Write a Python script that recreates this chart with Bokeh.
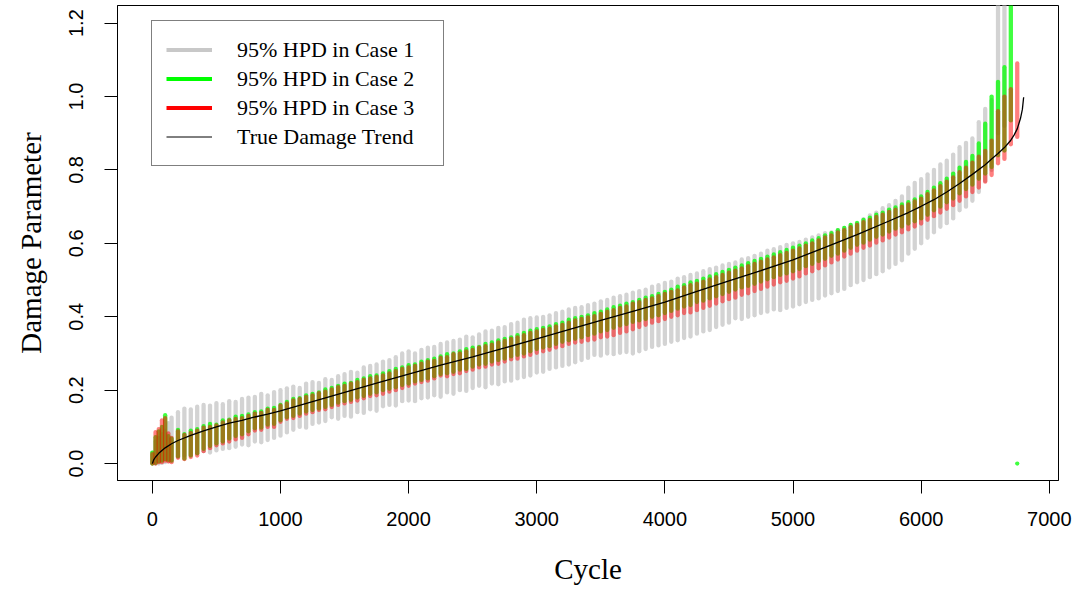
import numpy as np
from bokeh.plotting import figure
from bokeh.models import Range1d, FixedTicker, PrintfTickFormatter, Legend, LegendItem, ColumnDataSource
from bokeh.embed import file_html
from bokeh.resources import INLINE

NAN = float("nan")

cycles = [0, 25, 50, 75, 100, 125, 150,
          200, 250, 300, 350, 400, 450, 500, 550, 600, 650, 700, 750, 800, 850, 900, 950, 1000,
          1050, 1100, 1150, 1200, 1250, 1300, 1350, 1400, 1450, 1500, 1550, 1600, 1650, 1700, 1750, 1800, 1850, 1900, 1950, 2000,
          2050, 2100, 2150, 2200, 2250, 2300, 2350, 2400, 2450, 2500, 2550, 2600, 2650, 2700, 2750, 2800, 2850, 2900, 2950, 3000,
          3050, 3100, 3150, 3200, 3250, 3300, 3350, 3400, 3450, 3500, 3550, 3600, 3650, 3700, 3750, 3800, 3850, 3900, 3950, 4000,
          4050, 4100, 4150, 4200, 4250, 4300, 4350, 4400, 4450, 4500, 4550, 4600, 4650, 4700, 4750, 4800, 4850, 4900, 4950, 5000,
          5050, 5100, 5150, 5200, 5250, 5300, 5350, 5400, 5450, 5500, 5550, 5600, 5650, 5700, 5750, 5800, 5850, 5900, 5950, 6000,
          6050, 6100, 6150, 6200, 6250, 6300, 6350, 6400, 6450, 6500, 6550, 6600, 6650, 6700, 6750]

case1_lo = [0.000, 0.000, 0.000, 0.002, 0.004, 0.006, 0.008,
            0.018, 0.022, 0.024, 0.028, 0.034, 0.030, 0.036, 0.040, 0.042, 0.046, 0.052, 0.050, 0.060, 0.058, 0.064, 0.070, 0.076,
            0.085, 0.092, 0.100, 0.098, 0.108, 0.112, 0.116, 0.126, 0.122, 0.130, 0.128, 0.140, 0.138, 0.148, 0.144, 0.156, 0.160, 0.158, 0.170, 0.172,
            0.170, 0.178, 0.180, 0.186, 0.182, 0.194, 0.190, 0.200, 0.198, 0.206, 0.212, 0.208, 0.218, 0.216, 0.224, 0.226, 0.232, 0.236, 0.240, 0.248,
            0.250, 0.258, 0.262, 0.266, 0.270, 0.276, 0.282, 0.288, 0.296, 0.294, 0.300, 0.298, 0.302, 0.304, 0.300, 0.306, 0.312, 0.318, 0.322, 0.326,
            0.332, 0.336, 0.342, 0.346, 0.354, 0.360, 0.364, 0.372, 0.378, 0.384, 0.396, 0.394, 0.400, 0.404, 0.410, 0.414, 0.420, 0.418, 0.424, 0.428,
            0.434, 0.440, 0.446, 0.450, 0.458, 0.464, 0.470, 0.476, 0.486, 0.494, 0.500, 0.508, 0.516, 0.524, 0.534, 0.544, 0.554, 0.572, 0.585, 0.600,
            0.615, 0.630, 0.645, 0.655, 0.668, 0.690, 0.700, 0.716, 0.740, 0.770, 0.800, 0.900, 0.920, NAN, NAN]
case1_hi = [0.030, 0.060, 0.070, 0.080, 0.090, 0.110, 0.125,
            0.140, 0.150, 0.148, 0.155, 0.160, 0.158, 0.165, 0.162, 0.170, 0.168, 0.176, 0.180, 0.182, 0.190, 0.186, 0.195, 0.200,
            0.205, 0.210, 0.206, 0.218, 0.222, 0.220, 0.230, 0.228, 0.238, 0.244, 0.250, 0.248, 0.262, 0.266, 0.270, 0.278, 0.282, 0.290, 0.300, 0.306,
            0.300, 0.310, 0.316, 0.318, 0.326, 0.330, 0.334, 0.338, 0.346, 0.344, 0.352, 0.360, 0.362, 0.370, 0.372, 0.380, 0.384, 0.392, 0.396, 0.398,
            0.400, 0.404, 0.410, 0.414, 0.420, 0.424, 0.426, 0.432, 0.436, 0.442, 0.446, 0.452, 0.456, 0.460, 0.466, 0.470, 0.474, 0.482, 0.486, 0.492,
            0.496, 0.504, 0.508, 0.514, 0.518, 0.524, 0.530, 0.534, 0.540, 0.544, 0.548, 0.556, 0.560, 0.566, 0.572, 0.580, 0.584, 0.590, 0.596, 0.600,
            0.604, 0.610, 0.616, 0.622, 0.628, 0.630, 0.636, 0.642, 0.650, 0.654, 0.666, 0.676, 0.684, 0.696, 0.704, 0.716, 0.728, 0.752, 0.765, 0.775,
            0.788, 0.800, 0.815, 0.825, 0.842, 0.862, 0.874, 0.886, 0.930, 0.966, 0.990, 1.600, 1.600, NAN, NAN]

case2_lo = [0.000, 0.002, 0.006, 0.008, 0.012, 0.010, 0.008,
            0.020, 0.014, 0.022, 0.028, 0.040, 0.048, 0.055, 0.060, 0.068, 0.075, 0.080, 0.088, 0.096, 0.098, 0.106, 0.108, 0.118,
            0.126, 0.130, 0.136, 0.142, 0.146, 0.150, 0.154, 0.160, 0.166, 0.170, 0.174, 0.180, 0.184, 0.190, 0.194, 0.200, 0.204, 0.208, 0.214, 0.218,
            0.224, 0.228, 0.232, 0.238, 0.244, 0.246, 0.250, 0.256, 0.258, 0.264, 0.270, 0.272, 0.278, 0.282, 0.286, 0.292, 0.296, 0.300, 0.306, 0.312,
            0.316, 0.320, 0.326, 0.332, 0.336, 0.340, 0.344, 0.350, 0.354, 0.360, 0.364, 0.370, 0.376, 0.380, 0.386, 0.390, 0.394, 0.400, 0.404, 0.410,
            0.416, 0.422, 0.428, 0.432, 0.440, 0.444, 0.450, 0.456, 0.462, 0.468, 0.474, 0.480, 0.484, 0.490, 0.496, 0.502, 0.508, 0.514, 0.518, 0.524,
            0.530, 0.538, 0.544, 0.552, 0.558, 0.566, 0.572, 0.580, 0.588, 0.596, 0.602, 0.610, 0.618, 0.624, 0.632, 0.640, 0.646, 0.654, 0.660, 0.668,
            0.678, 0.690, 0.700, 0.712, 0.722, 0.736, 0.748, 0.760, 0.776, 0.790, 0.808, 0.840, 0.853, 0.935, 0.000]
case2_hi = [0.030, 0.072, 0.088, 0.100, 0.132, 0.075, 0.068,
            0.092, 0.080, 0.090, 0.094, 0.102, 0.108, 0.106, 0.118, 0.120, 0.128, 0.130, 0.134, 0.140, 0.142, 0.150, 0.152, 0.160,
            0.168, 0.176, 0.178, 0.186, 0.190, 0.194, 0.202, 0.206, 0.212, 0.218, 0.220, 0.228, 0.232, 0.238, 0.240, 0.246, 0.252, 0.258, 0.262, 0.268,
            0.270, 0.278, 0.282, 0.286, 0.292, 0.298, 0.300, 0.306, 0.312, 0.316, 0.318, 0.326, 0.330, 0.336, 0.340, 0.344, 0.350, 0.356, 0.362, 0.366,
            0.370, 0.374, 0.380, 0.384, 0.392, 0.396, 0.400, 0.404, 0.410, 0.414, 0.420, 0.426, 0.430, 0.436, 0.440, 0.446, 0.452, 0.456, 0.462, 0.468,
            0.474, 0.482, 0.486, 0.494, 0.498, 0.504, 0.510, 0.516, 0.522, 0.528, 0.534, 0.540, 0.546, 0.552, 0.558, 0.564, 0.570, 0.576, 0.582, 0.588,
            0.594, 0.600, 0.608, 0.614, 0.622, 0.628, 0.636, 0.642, 0.650, 0.656, 0.664, 0.670, 0.678, 0.684, 0.692, 0.698, 0.706, 0.712, 0.720, 0.728,
            0.740, 0.752, 0.764, 0.776, 0.790, 0.806, 0.822, 0.838, 0.872, 0.926, 1.000, 1.040, 1.080, 1.600, 0.000]

case3_lo = [0.000, 0.000, 0.004, 0.004, 0.008, 0.006, 0.004,
            0.016, 0.012, 0.018, 0.022, 0.034, 0.042, 0.050, 0.055, 0.060, 0.066, 0.070, 0.080, 0.090, 0.092, 0.100, 0.100, 0.114,
            0.122, 0.124, 0.130, 0.136, 0.140, 0.146, 0.148, 0.154, 0.160, 0.164, 0.168, 0.172, 0.178, 0.184, 0.186, 0.190, 0.196, 0.200, 0.206, 0.212,
            0.218, 0.222, 0.226, 0.232, 0.240, 0.238, 0.244, 0.246, 0.252, 0.256, 0.262, 0.264, 0.270, 0.272, 0.278, 0.284, 0.286, 0.292, 0.296, 0.302,
            0.306, 0.310, 0.316, 0.320, 0.326, 0.330, 0.332, 0.336, 0.338, 0.344, 0.346, 0.350, 0.356, 0.360, 0.366, 0.372, 0.378, 0.384, 0.388, 0.394,
            0.400, 0.404, 0.410, 0.412, 0.418, 0.424, 0.430, 0.436, 0.442, 0.448, 0.452, 0.460, 0.464, 0.470, 0.476, 0.482, 0.488, 0.494, 0.498, 0.504,
            0.510, 0.518, 0.524, 0.532, 0.540, 0.548, 0.556, 0.564, 0.572, 0.580, 0.588, 0.594, 0.602, 0.608, 0.616, 0.624, 0.630, 0.638, 0.646, 0.654,
            0.664, 0.674, 0.684, 0.694, 0.704, 0.716, 0.728, 0.740, 0.752, 0.768, 0.786, 0.818, 0.830, 0.870, 0.890]
case3_hi = [0.026, 0.086, 0.094, 0.118, 0.124, 0.082, 0.070,
            0.088, 0.078, 0.084, 0.090, 0.098, 0.100, 0.104, 0.112, 0.118, 0.122, 0.124, 0.130, 0.136, 0.138, 0.146, 0.146, 0.158,
            0.164, 0.172, 0.176, 0.182, 0.186, 0.192, 0.196, 0.202, 0.208, 0.212, 0.218, 0.222, 0.228, 0.232, 0.236, 0.240, 0.246, 0.252, 0.258, 0.262,
            0.266, 0.272, 0.278, 0.280, 0.288, 0.290, 0.298, 0.300, 0.306, 0.310, 0.316, 0.320, 0.324, 0.330, 0.334, 0.340, 0.344, 0.350, 0.356, 0.360,
            0.364, 0.368, 0.374, 0.378, 0.384, 0.390, 0.394, 0.398, 0.402, 0.408, 0.414, 0.418, 0.424, 0.428, 0.436, 0.440, 0.446, 0.450, 0.456, 0.462,
            0.468, 0.472, 0.480, 0.486, 0.490, 0.496, 0.502, 0.508, 0.514, 0.520, 0.526, 0.532, 0.538, 0.544, 0.550, 0.556, 0.562, 0.568, 0.574, 0.580,
            0.586, 0.594, 0.600, 0.608, 0.616, 0.622, 0.630, 0.636, 0.644, 0.650, 0.658, 0.664, 0.672, 0.678, 0.686, 0.692, 0.700, 0.706, 0.714, 0.722,
            0.734, 0.744, 0.756, 0.768, 0.780, 0.794, 0.806, 0.820, 0.836, 0.852, 0.880, 0.960, 1.000, 1.020, 1.090]

trend_cycle = [0, 10, 25, 50, 75, 100, 150, 200, 300, 400, 500, 600, 700, 800, 900, 1000,
               1250, 1500, 1750, 2000, 2250, 2500, 2750, 3000, 3250, 3500, 3750, 4000,
               4250, 4500, 4750, 5000, 5250, 5500, 5750, 5900, 6000, 6100, 6200, 6300, 6400,
               6500, 6550, 6600, 6650, 6700, 6725, 6750, 6775, 6790, 6800]
trend_value = [0.000, 0.010, 0.018, 0.028, 0.036, 0.043, 0.054, 0.063, 0.077, 0.089, 0.100, 0.110, 0.118, 0.127, 0.135, 0.144,
               0.169, 0.194, 0.219, 0.244, 0.268, 0.291, 0.315, 0.340, 0.365, 0.390, 0.415, 0.440,
               0.469, 0.498, 0.526, 0.555, 0.589, 0.624, 0.661, 0.684, 0.701, 0.719, 0.740, 0.763, 0.788,
               0.814, 0.830, 0.845, 0.861, 0.881, 0.895, 0.912, 0.940, 0.965, 0.998]

x_ticks = [0, 1000, 2000, 3000, 4000, 5000, 6000, 7000]
y_ticks = [0.0, 0.2, 0.4, 0.6, 0.8, 1.0, 1.2]
legend_labels = ["95% HPD in Case 1", "95% HPD in Case 2", "95% HPD in Case 3", "True Damage Trend"]

p = figure(width=1076, height=592, x_range=Range1d(-272, 7072), y_range=Range1d(-0.046, 1.248),
           output_backend="svg", toolbar_location=None,
           min_border_left=117, min_border_right=18, min_border_top=5, min_border_bottom=112)
p.background_fill_color = "white"
p.border_fill_color = "white"
p.outline_line_color = "black"
p.outline_line_width = 1
p.outline_line_alpha = 1
p.grid.visible = False

src1 = ColumnDataSource(dict(x=cycles, lo=case1_lo, hi=case1_hi))
src2 = ColumnDataSource(dict(x=cycles, lo=case2_lo, hi=case2_hi))
src3 = ColumnDataSource(dict(x=cycles, lo=case3_lo, hi=case3_hi))

p.segment(x0="x", y0="lo", x1="x", y1="hi", source=src1, line_color="#D3D3D3", line_width=4.3, line_cap="round")
p.segment(x0="x", y0="lo", x1="x", y1="hi", source=src2, line_color="#00FF00", line_alpha=0.75, line_width=4.3, line_cap="round")
p.segment(x0="x", y0="lo", x1="x", y1="hi", source=src3, line_color="#FF0000", line_alpha=0.5, line_width=4.3, line_cap="round")
p.line(trend_cycle, trend_value, line_color="black", line_width=1.3)

# legend proxies (opaque), placed outside the visible range
proxy_x = [-5000, -4000]
proxy_y = [-1, -1]
l1 = p.line(proxy_x, proxy_y, line_color="#C8C8C8", line_width=4)
l2 = p.line(proxy_x, proxy_y, line_color="#00FF00", line_width=4)
l3 = p.line(proxy_x, proxy_y, line_color="#FF0000", line_width=4)
l4 = p.line(proxy_x, proxy_y, line_color="black", line_width=1)

legend = Legend(items=[LegendItem(label=legend_labels[0], renderers=[l1]),
                       LegendItem(label=legend_labels[1], renderers=[l2]),
                       LegendItem(label=legend_labels[2], renderers=[l3]),
                       LegendItem(label=legend_labels[3], renderers=[l4])],
                location=(34, 314))
legend.margin = 0
legend.padding = 14
legend.spacing = 0
legend.glyph_width = 46
legend.glyph_height = 29
legend.label_height = 29
legend.label_width = 192
legend.label_standoff = 25
legend.label_text_font = "Liberation Serif"
legend.label_text_font_size = "22px"
legend.label_text_color = "black"
legend.border_line_color = "black"
legend.border_line_width = 1
legend.background_fill_color = "white"
legend.background_fill_alpha = 1
p.add_layout(legend)

for ax in (p.xaxis[0], p.yaxis[0]):
    ax.axis_line_color = "black"
    ax.major_tick_line_color = "black"
    ax.major_tick_out = 13
    ax.major_tick_in = 0
    ax.minor_tick_line_color = None
    ax.major_label_text_font = "Liberation Sans"
    ax.major_label_text_font_size = "20px"
    ax.major_label_text_color = "black"
    ax.axis_label_text_font = "Liberation Serif"
    ax.axis_label_text_font_size = "29px"
    ax.axis_label_text_font_style = "normal"
    ax.axis_label_text_color = "black"

p.xaxis.ticker = FixedTicker(ticks=x_ticks)
p.yaxis.ticker = FixedTicker(ticks=y_ticks)
p.yaxis.formatter = PrintfTickFormatter(format="%.1f")
p.yaxis.major_label_orientation = "vertical"
p.xaxis.major_label_standoff = 18
p.yaxis.major_label_standoff = 21
p.xaxis.axis_label = "Cycle"
p.yaxis.axis_label = "Damage Parameter"
p.xaxis.axis_label_standoff = 24
p.yaxis.axis_label_standoff = 20

open("out.html", "w").write(file_html(p, INLINE))
